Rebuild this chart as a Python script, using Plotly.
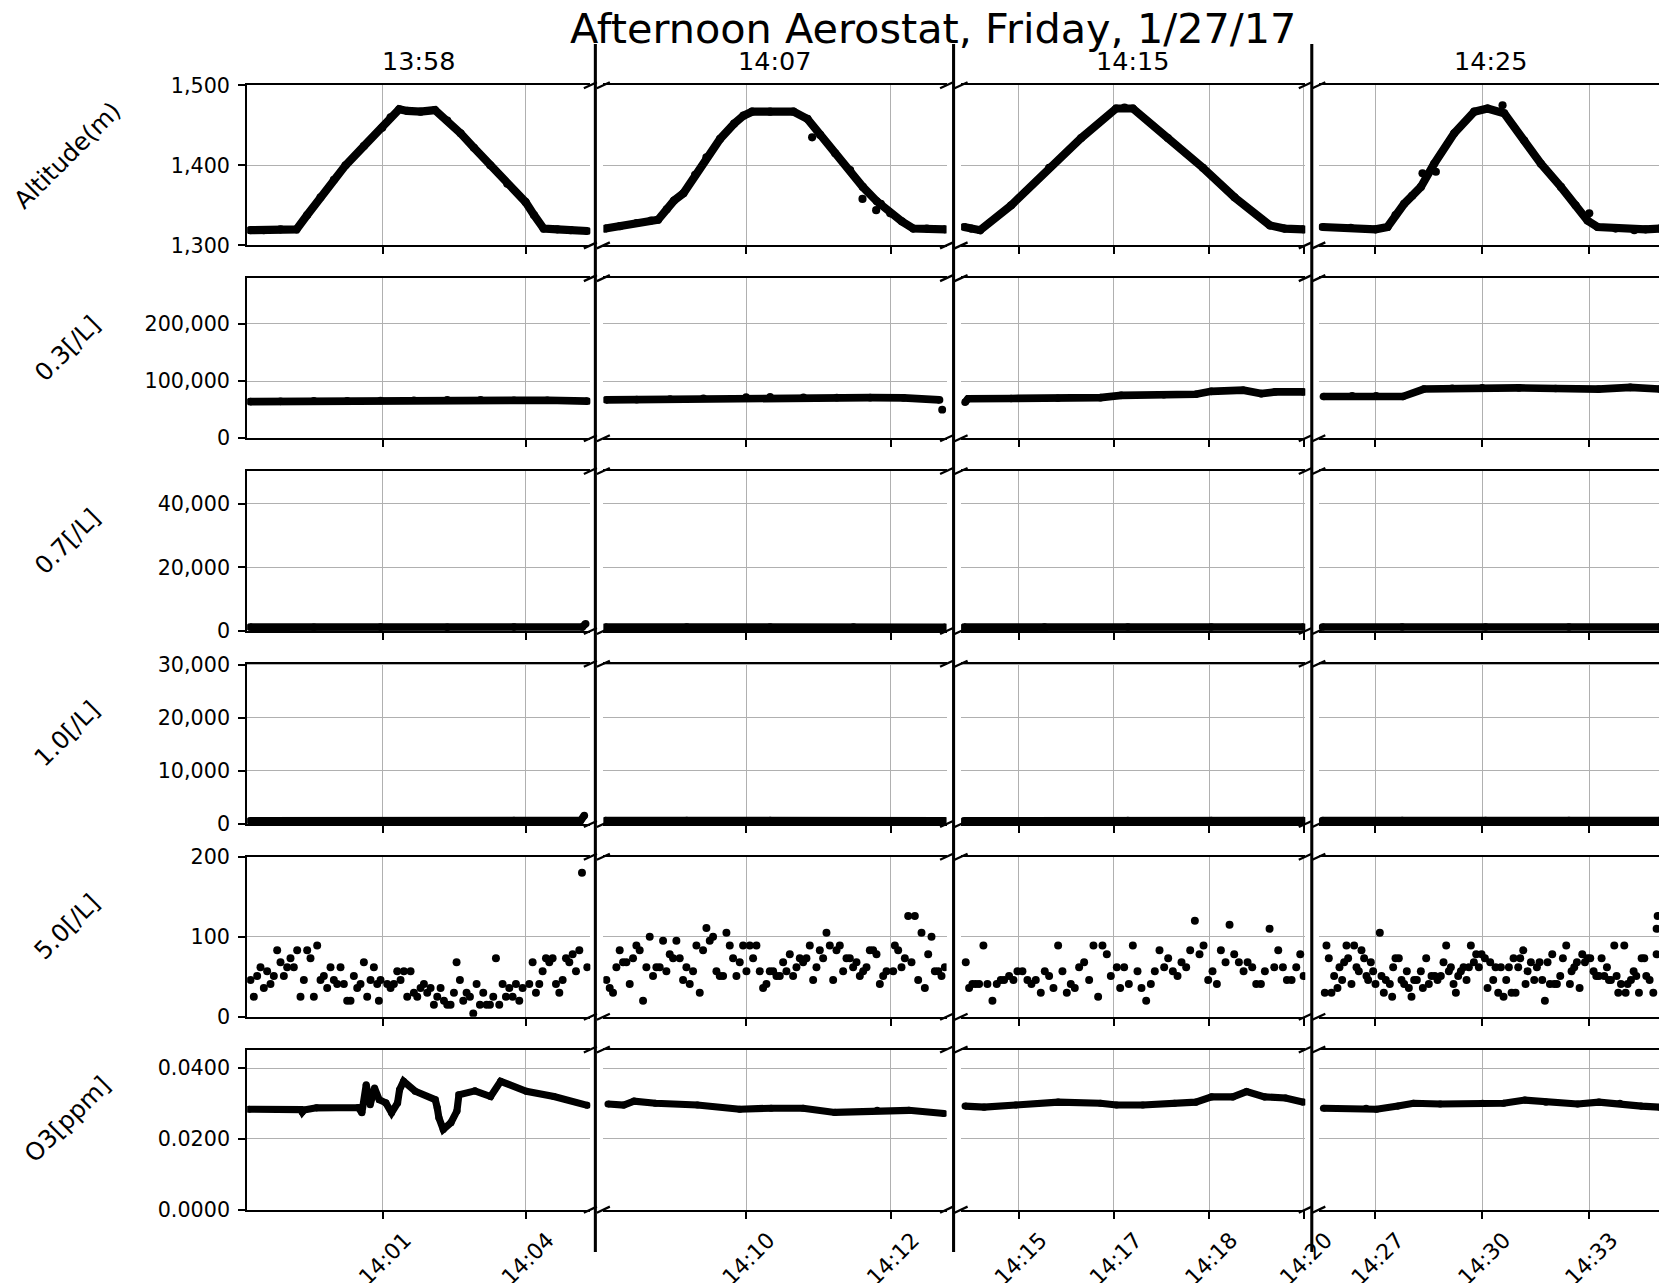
import plotly.graph_objects as go

# ---------------- text ----------------
TITLE = "Afternoon Aerostat, Friday, 1/27/17"
SEGMENT_TITLES = ["13:58", "14:07", "14:15", "14:25"]
ROW_LABELS = ["Altitude(m)", "0.3[/L]", "0.7[/L]", "1.0[/L]", "5.0[/L]", "O3[ppm]"]

# ---------------- x axes: sample index inside each flight segment ----------------
XTICK_POS = [[40.7, 83.5], [42.9, 86.2], [17.25, 45.75, 74.4, 102.8], [17.0, 49.0, 81.1]]
XTICK_TEXT = [["14:01", "14:04"], ["14:10", "14:12"],
              ["14:15", "14:17", "14:18", "14:20"], ["14:27", "14:30", "14:33"]]

# ---------------- y axes ----------------
Y_RANGE = [[1300, 1500], [0, 280000], [0, 50300], [0, 30200], [0, 200], [0, 0.0453]]
Y_TICKS = [[1300, 1400, 1500], [0, 100000, 200000], [0, 20000, 40000],
           [0, 10000, 20000, 30000], [0, 100, 200], [0, 0.02, 0.04]]
Y_FORMAT = [",d", ",d", ",d", ",d", ",d", ".4f"]

# ---------------- altitude [m] ----------------
alt_x = [
    [0.9, 5, 10, 14.8, 18, 22, 26, 29.5, 35, 40.5, 43, 45.6, 48, 52, 56.3, 60, 64, 68, 72.9, 78,
     83.5, 86, 88.9, 93, 97, 102],
    [0.6, 5, 10, 14.3, 16.4, 19, 21.2, 24, 27.5, 30.9, 35, 39.2, 42, 44.6, 50, 57, 61.2, 65, 69.5,
     74, 77.8, 82, 86, 89.5, 92.9, 97, 102.5],
    [0.9, 3, 5.7, 15, 26.4, 36, 46.5, 49, 51.5, 62, 72.5, 82, 92.6, 97, 102.7],
    [1.1, 9.6, 17, 20.6, 23, 25.6, 28, 30.6, 34.6, 40.6, 46.6, 50.6, 55.6, 61.6, 66.6, 72.6, 77,
     80.6, 83.6, 89, 94.6, 98, 102.3],
]
alt_y = [
    [1319, 1319, 1320, 1320, 1338, 1360, 1382, 1400, 1424, 1447, 1460, 1470, 1468, 1467, 1469, 1456,
     1440, 1422, 1400, 1377, 1354, 1338, 1321, 1320, 1319, 1318],
    [1321, 1324, 1328, 1331, 1332, 1345, 1356, 1365, 1388, 1410, 1433, 1452, 1462, 1467, 1467, 1467,
     1458, 1438, 1415, 1394, 1373, 1355, 1340, 1330, 1321, 1321, 1320],
    [1323, 1321, 1319, 1350, 1397, 1434, 1471, 1472, 1471, 1434, 1397, 1360, 1325, 1321, 1320],
    [1323, 1322, 1320, 1323, 1338, 1352, 1362, 1373, 1402, 1440, 1467, 1471, 1465, 1431, 1402, 1373,
     1350, 1331, 1323, 1321, 1319, 1320, 1321],
]
alt_stray_x = [[], [62.6, 77.7, 81.8, 83.2], [], [31.1, 35.1, 55.1, 81.1]]
alt_stray_y = [[], [1435, 1358, 1344, 1352], [], [1390, 1392, 1475, 1340]]

# ---------------- 0.3 um counts [/L] ----------------
pm03_x = [
    [0.9, 10, 20, 30, 40, 50, 60, 70, 80, 90, 102],
    [0.8, 10, 20, 30, 42.8, 50, 60, 70, 80, 90, 100.8],
    [1.2, 2.1, 15, 29, 41.8, 48, 60.8, 70.4, 75, 84.6, 90, 94.2, 102.7],
    [1.4, 10, 17.2, 25.2, 31.5, 40, 49, 60, 71, 83.9, 93.4, 102.3],
]
pm03_y = [
    [64000, 64500, 65500, 65500, 66000, 66500, 67000, 67000, 66500, 66500, 65000],
    [67000, 67500, 68500, 70000, 72000, 72500, 71500, 71000, 71000, 70500, 67000],
    [63000, 69000, 69500, 70000, 71000, 75000, 76000, 77000, 82000, 84000, 78000, 81000, 81000],
    [73000, 74000, 74000, 73000, 86000, 87500, 88000, 88000, 87000, 86000, 89000, 86000],
]
pm03_stray_x = [[], [101.6], [], []]
pm03_stray_y = [[], [50000], [], []]

# ---------------- 0.7 um counts [/L] ----------------
pm07_x = [
    [0.9, 20, 40, 60, 80, 100.5, 101.5],
    [0.6, 25, 50, 75, 102.5],
    [0.9, 25, 50, 75, 102.7],
    [1.1, 25, 50, 75, 102.3],
]
pm07_y = [
    [1250, 1200, 1250, 1200, 1250, 1300, 2300],
    [1250, 1300, 1250, 1250, 1200],
    [1250, 1250, 1300, 1300, 1300],
    [1300, 1300, 1300, 1300, 1300],
]

# ---------------- 1.0 um counts [/L] ----------------
pm10_x = [
    [0.9, 20, 40, 60, 80, 100, 101.1],
    [0.6, 25, 50, 75, 102.5],
    [0.9, 25, 50, 75, 102.7],
    [1.1, 25, 50, 75, 102.3],
]
pm10_y = [
    [600, 600, 580, 600, 620, 650, 1590],
    [620, 620, 620, 600, 600],
    [580, 600, 620, 640, 640],
    [640, 640, 640, 640, 640],
]

# ---------------- 5.0 um counts [/L], (sample, value) ----------------
pm50_pts = [
    [(1, 46), (2, 25), (3, 51), (4, 62), (5, 36), (6, 57), (7, 41), (8, 51), (9, 83), (10, 68),
     (11, 51), (12, 62), (13, 73), (14, 62), (15, 83), (16, 25), (17, 46), (18, 83), (19, 73),
     (20, 25), (21, 89), (22, 46), (23, 51), (24, 36), (25, 62), (26, 46), (27, 41), (28, 62),
     (29, 41), (30, 20), (31, 20), (32, 51), (33, 36), (34, 41), (35, 68), (36, 25), (37, 46),
     (38, 62), (39, 41), (39.5, 20), (40, 46), (42, 41), (43, 36), (44, 41), (45, 57), (46, 46),
     (47, 57), (48, 25), (49, 57), (50, 30), (51, 25), (52, 36), (53, 41), (54, 30), (55, 36),
     (56, 15), (57, 25), (58, 36), (59, 20), (60, 15), (61, 15), (62, 30), (62.8, 68), (63.8, 46),
     (64.8, 20), (65.8, 30), (66.8, 25), (67.8, 4), (68.8, 41), (69.8, 15), (70.8, 30), (71.8, 15),
     (72.8, 15), (73.8, 25), (74.6, 73), (75.6, 15), (76.6, 41), (77.6, 25), (78.6, 36), (79.6, 25),
     (80.6, 41), (81.6, 20), (82.6, 36), (84.6, 41), (85.6, 68), (86.6, 30), (87.6, 41), (88.6, 57),
     (89.6, 73), (90.6, 68), (91.6, 73), (92.6, 41), (93.6, 30), (94.6, 46), (95.6, 73), (96.6, 68),
     (97.6, 78), (98.6, 57), (99.6, 83), (100.4, 180), (102, 62)],
    [(0.9, 46), (1.9, 36), (2.9, 30), (3.9, 62), (4.9, 83), (5.9, 68), (6.9, 68), (7.9, 41),
     (8.9, 73), (9.9, 89), (10.9, 83), (11.9, 20), (12.9, 62), (13.9, 100), (14.9, 51), (15.9, 62),
     (16.9, 62), (17.9, 95), (18.9, 57), (19.9, 78), (20.9, 73), (21.9, 95), (22.9, 73), (23.9, 46),
     (24.9, 62), (25.9, 41), (26.9, 57), (27.9, 89), (28.9, 30), (29.9, 83), (30.9, 111),
     (31.9, 95), (32.9, 100), (33.9, 57), (34.9, 51), (35.9, 51), (36.9, 105), (37.9, 89),
     (38.9, 73), (39.9, 51), (40.9, 68), (41.9, 89), (42.9, 57), (43.9, 89), (44.9, 73), (45.9, 89),
     (46.9, 57), (47.9, 36), (48.9, 41), (49.9, 57), (50.9, 57), (51.9, 51), (52.9, 51), (53.9, 68),
     (54.9, 57), (55.9, 78), (56.9, 51), (57.9, 62), (58.9, 73), (59.9, 68), (60.9, 73), (61.9, 89),
     (62.9, 46), (63.9, 62), (64.9, 83), (65.9, 73), (66.9, 105), (67.9, 89), (68.9, 46), (69.9, 83),
     (70.9, 89), (71.9, 57), (72.9, 73), (73.9, 73), (74.9, 62), (75.9, 68), (76.9, 51), (77.9, 57),
     (78.9, 62), (79.9, 83), (80.9, 83), (81.9, 78), (82.9, 41), (83.9, 51), (84.9, 57), (86.9, 57),
     (87.4, 89), (88.4, 83), (89.4, 62), (90.4, 73), (91.4, 126), (92.4, 68), (93.4, 126),
     (94.4, 46), (95.4, 105), (96.4, 36), (97.4, 78), (98.4, 100), (99.4, 57), (100.4, 57),
     (101.4, 51), (102.4, 62)],
    [(1.4, 68), (2.4, 36), (3.4, 41), (4.4, 41), (5.4, 41), (6.7, 89), (7.9, 41), (9.4, 20),
     (10.7, 41), (11.9, 46), (12.9, 46), (14.4, 51), (15.7, 46), (16.9, 57), (18.4, 57), (19.9, 46),
     (21.1, 41), (22.4, 46), (23.9, 30), (25.1, 57), (26.4, 51), (27.7, 36), (29.1, 89), (30.4, 57),
     (31.7, 30), (32.9, 41), (34.1, 36), (35.4, 62), (36.9, 68), (38.4, 46), (39.7, 89), (41.1, 25),
     (42.4, 89), (43.7, 78), (44.9, 51), (46.7, 62), (47.7, 36), (48.9, 62), (50.3, 41), (51.5, 89),
     (52.9, 57), (54.1, 36), (55.5, 20), (56.9, 41), (58.1, 57), (59.5, 83), (60.9, 62), (62.1, 73),
     (63.5, 57), (64.9, 51), (66.1, 68), (67.5, 62), (68.7, 83), (70.1, 120), (71.5, 78), (72.7, 89),
     (74.1, 46), (75.4, 57), (76.7, 41), (77.9, 83), (79.3, 68), (80.5, 115), (81.9, 78), (83.3, 68),
     (84.7, 57), (85.9, 68), (87.3, 62), (88.5, 41), (89.9, 41), (91.1, 57), (92.5, 110), (93.9, 62),
     (95.1, 83), (96.5, 62), (97.7, 46), (99.1, 46), (100.5, 62), (101.7, 78), (102.7, 51)],
    [(1.8, 30), (2.3, 89), (3, 73), (3.8, 30), (4.6, 51), (5.6, 36), (6.2, 62), (7, 46), (7.6, 68),
     (8.3, 89), (8.8, 73), (9.8, 41), (10.6, 89), (11.3, 62), (12, 57), (12.8, 83), (13.6, 73),
     (14.3, 51), (14.8, 46), (15.6, 68), (16.3, 57), (17, 41), (18.3, 105), (18.8, 51), (19.5, 30),
     (20.1, 46), (21.3, 41), (22, 25), (22.3, 62), (23, 73), (24, 73), (24.8, 46), (25.6, 41),
     (26.4, 57), (27, 36), (27.8, 25), (28.6, 46), (29.4, 46), (30.6, 57), (31.2, 36), (32.2, 73),
     (33, 41), (33.8, 51), (34.8, 51), (35.6, 46), (36.6, 51), (37.4, 68), (38.2, 89), (39, 57),
     (39.6, 62), (40.4, 41), (41.1, 30), (41.8, 51), (42.6, 57), (43.4, 62), (44.3, 46), (45, 62),
     (45.6, 89), (46.5, 68), (47.2, 78), (48, 62), (48.8, 78), (49.8, 73), (50.6, 36), (51.4, 68),
     (52.3, 46), (53, 62), (53.8, 30), (54.6, 62), (55.4, 25), (56.2, 46), (57, 62), (57.8, 30),
     (58.4, 73), (59, 30), (59.8, 62), (60.4, 73), (61.3, 83), (62, 41), (62.6, 57), (63.6, 68),
     (64.6, 46), (65.4, 62), (66.2, 68), (67, 46), (67.8, 20), (68.6, 68), (69.3, 41), (70, 78),
     (70.6, 41), (71.4, 41), (72.4, 51), (73.2, 73), (74.2, 89), (75.3, 41), (75.8, 57), (76.6, 62),
     (77.4, 68), (78.2, 36), (79, 78), (79.8, 68), (80.6, 73), (81.4, 73), (82.4, 57), (83.2, 51),
     (84, 51), (84.8, 73), (85.6, 51), (86.4, 62), (87, 46), (87.6, 46), (88.6, 89), (89.3, 51),
     (89.8, 30), (90.6, 41), (91.6, 89), (92, 30), (92.6, 41), (93.6, 46), (94.4, 57), (95.2, 51),
     (96, 30), (96.8, 73), (97.6, 73), (98.2, 51), (99.2, 46), (100.3, 30), (101.3, 78),
     (101.3, 110), (101.6, 126)],
]

# ---------------- ozone [ppm] ----------------
o3_x = [
    [0.5, 16.1, 16.5, 17, 20.8, 33.3, 34.4, 35.7, 36.9, 38.2, 39.6, 41.6, 43.3, 45.1, 45.7, 46.9,
     50.4, 56.4, 57, 57.5, 58.8, 61.1, 62.9, 63.5, 68.3, 73, 76, 83.7, 92, 102],
    [1.4, 6.1, 9.2, 15.6, 28.2, 40.9, 50.3, 59.9, 69.4, 82.1, 91.6, 102.2],
    [1.2, 6.9, 16.4, 29.1, 41.8, 46.6, 54.5, 64, 70.4, 75.1, 81.5, 85.6, 91, 97.3, 102.7],
    [1.4, 14.2, 17.3, 23.7, 28.4, 36.4, 49.1, 55.4, 61.8, 68.1, 77.6, 84, 90.3, 96.7, 102.3],
]
o3_y = [
    [0.0284, 0.0283, 0.0276, 0.0282, 0.0288, 0.0289, 0.0274, 0.0353, 0.0297, 0.0344, 0.0311, 0.0302,
     0.0274, 0.0302, 0.0339, 0.0363, 0.0335, 0.0311, 0.0288, 0.0260, 0.0227, 0.0246, 0.0279, 0.0325,
     0.0336, 0.0320, 0.0363, 0.0335, 0.0320, 0.0295],
    [0.0299, 0.0296, 0.0307, 0.0301, 0.0296, 0.0284, 0.0287, 0.0287, 0.0275, 0.0281, 0.0281, 0.0272],
    [0.0293, 0.0290, 0.0296, 0.0304, 0.0301, 0.0296, 0.0296, 0.0301, 0.0304, 0.0319, 0.0319, 0.0334,
     0.0319, 0.0316, 0.0304],
    [0.0287, 0.0287, 0.0284, 0.0293, 0.0301, 0.0299, 0.0301, 0.0301, 0.0310, 0.0304, 0.0299, 0.0304,
     0.0301, 0.0293, 0.0290],
]

# ---------------- page geometry ----------------
# Panel positions are laid out on a 1659 x 1283 grid (the top TOP_SHIFT rows of
# the grid sit above the figure) and expressed as paper fractions; the figure is
# sized in CSS pixels and every size (fonts, strokes, markers) is scaled by K.
GRID_W, GRID_H = 1659, 1283
TOP_SHIFT = 12
FIG_W = 1692
K = FIG_W / GRID_W
FIG_H = int(round((GRID_H - TOP_SHIFT) * K))
FONT = "DejaVu Sans"
PX_PER_SAMPLE = 3.333
COL_LEFT = [247, 603, 960.5, 1318]
COL_RIGHT = [590, 946, 1304.5, GRID_W]
ROW_TOP0, ROW_PITCH, ROW_H = 85.2, 192.7, 160
SEPARATORS = [595, 953, 1311]
SEP_TOP, SEP_BOTTOM = 44, 1251


def fx(px):
    return px / GRID_W


def fy(py):
    return 1 - (py - TOP_SHIFT) / (GRID_H - TOP_SHIFT)


fig = go.Figure()
BLACK = "black"
GRID = "#b0b0b0"


def line_trace(x, y, k, width=7.5):
    ax = "" if k == 1 else str(k)
    return go.Scatter(x=x, y=y, mode="lines+markers", xaxis="x" + ax, yaxis="y" + ax,
                      line=dict(color=BLACK, width=width * K),
                      marker=dict(color=BLACK, size=width * K), showlegend=False,
                      hoverinfo="skip")


def dot_trace(x, y, k, size=7.8):
    ax = "" if k == 1 else str(k)
    return go.Scatter(x=x, y=y, mode="markers", xaxis="x" + ax, yaxis="y" + ax,
                      marker=dict(color=BLACK, size=size * K), showlegend=False,
                      hoverinfo="skip")


layout_axes = {}
shapes = []
annotations = []

for r in range(6):
    top = ROW_TOP0 + r * ROW_PITCH
    bot = top + ROW_H
    for c in range(4):
        k = r * 4 + c + 1
        sfx = "" if k == 1 else str(k)
        left, right = COL_LEFT[c], COL_RIGHT[c]
        x_span = (right - left) / PX_PER_SAMPLE

        # traces for this panel
        if r == 0:
            fig.add_trace(line_trace(alt_x[c], alt_y[c], k, 8))
            if alt_stray_x[c]:
                fig.add_trace(dot_trace(alt_stray_x[c], alt_stray_y[c], k, 8))
        elif r == 1:
            fig.add_trace(line_trace(pm03_x[c], pm03_y[c], k))
            if pm03_stray_x[c]:
                fig.add_trace(dot_trace(pm03_stray_x[c], pm03_stray_y[c], k))
        elif r == 2:
            fig.add_trace(line_trace(pm07_x[c], pm07_y[c], k))
        elif r == 3:
            fig.add_trace(line_trace(pm10_x[c], pm10_y[c], k))
        elif r == 4:
            pts = pm50_pts[c]
            fig.add_trace(dot_trace([p[0] for p in pts], [p[1] for p in pts], k))
        else:
            fig.add_trace(line_trace(o3_x[c], o3_y[c], k, 7))

        layout_axes["xaxis" + sfx] = dict(
            domain=[fx(left), fx(right)], range=[0, x_span], anchor="y" + sfx,
            tickmode="array", tickvals=XTICK_POS[c], ticktext=XTICK_TEXT[c],
            showticklabels=(r == 5), ticks="outside", ticklen=7 * K, tickwidth=1.5 * K,
            tickcolor=BLACK, tickangle=-45, ticklabelshift=int(round(22 * K)),
            tickfont=dict(family=FONT, size=21.5 * K, color=BLACK),
            showgrid=True, gridcolor=GRID, gridwidth=1.3 * K,
            showline=True, linecolor=BLACK, linewidth=1.6 * K, mirror=True,
            zeroline=False, fixedrange=True,
        )
        layout_axes["yaxis" + sfx] = dict(
            domain=[fy(bot), fy(top)], range=Y_RANGE[r], anchor="x" + sfx,
            tickmode="array", tickvals=Y_TICKS[r], tickformat=Y_FORMAT[r],
            showticklabels=(c == 0), ticks="outside" if c == 0 else "",
            ticklen=7 * K, tickwidth=1.5 * K, tickcolor=BLACK, ticklabelstandoff=4,
            tickfont=dict(family=FONT, size=20.3 * K, color=BLACK),
            showgrid=True, gridcolor=GRID, gridwidth=1.3 * K,
            showline=(c == 0), linecolor=BLACK, linewidth=1.6 * K, mirror=False,
            zeroline=False, fixedrange=True,
        )

        # diagonal break marks where the time axis is cut
        cuts = []
        if c > 0:
            cuts.append(left)
        if c < 3:
            cuts.append(right)
        for cx in cuts:
            for cy in (top, bot):
                shapes.append(dict(type="line", xref="paper", yref="paper",
                                   x0=fx(cx - 6.5), y0=fy(cy + 3), x1=fx(cx + 6.5), y1=fy(cy - 3),
                                   line=dict(color=BLACK, width=2.2 * K)))

    # row label
    annotations.append(dict(text=ROW_LABELS[r], xref="paper", yref="paper",
                            x=fx(67), y=fy(top + ROW_H / 2 - 10), xanchor="center",
                            yanchor="middle", textangle=-45, showarrow=False,
                            font=dict(family=FONT, size=24 * K, color=BLACK)))

# segment separators
for sx in SEPARATORS:
    shapes.append(dict(type="line", xref="paper", yref="paper",
                       x0=fx(sx), x1=fx(sx), y0=fy(SEP_TOP), y1=fy(SEP_BOTTOM),
                       line=dict(color=BLACK, width=3 * K)))

# segment start times
for c, label in enumerate(SEGMENT_TITLES):
    annotations.append(dict(text=label, xref="paper", yref="paper", x=fx(COL_LEFT[c] + 171.5),
                            y=fy(61), xanchor="center", yanchor="middle", showarrow=False,
                            font=dict(family=FONT, size=25 * K, color=BLACK)))

annotations.append(dict(text=TITLE, xref="paper", yref="paper", x=fx(932), y=fy(28.5),
                        xanchor="center", yanchor="middle", showarrow=False,
                        font=dict(family=FONT, size=40.6 * K, color=BLACK)))

fig.update_layout(
    width=FIG_W, height=FIG_H, margin=dict(l=0, r=0, t=0, b=0),
    paper_bgcolor="white", plot_bgcolor="white",
    shapes=shapes, annotations=annotations, showlegend=False,
    font=dict(family=FONT, color=BLACK),
    **layout_axes,
)

fig.write_html("out.html")
